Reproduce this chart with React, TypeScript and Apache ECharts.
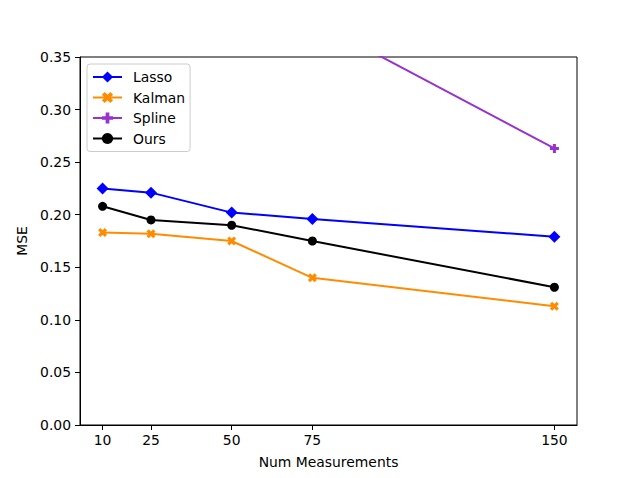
import React, { useEffect, useRef } from "react";
import * as echarts from "echarts";

const xValues = [10, 25, 50, 75, 150];
const lasso = [0.225, 0.221, 0.202, 0.196, 0.179];
const kalman = [0.183, 0.182, 0.175, 0.14, 0.113];
const spline = [null, null, null, 0.385, 0.263];
const ours = [0.208, 0.195, 0.19, 0.175, 0.131];
const yTicks = [0, 0.05, 0.1, 0.15, 0.2, 0.25, 0.3, 0.35];

const FONT = "DejaVu Sans";
const FS = 13.9;

const plusPath =
  "path://M-1,-3L1,-3L1,-1L3,-1L3,1L1,1L1,3L-1,3L-1,1L-3,1L-3,-1L-1,-1Z";
const xPath =
  "path://M0,-1.5L1.5,-3L3,-1.5L1.5,0L3,1.5L1.5,3L0,1.5L-1.5,3L-3,1.5L-1.5,0L-3,-1.5L-1.5,-3Z";

function pairs(ys: (number | null)[]) {
  return xValues.map((x, i) => [x, ys[i]]);
}

export default function App() {
  const ref = useRef<HTMLDivElement>(null);
  useEffect(() => {
    const chart = echarts.init(ref.current!, null, { renderer: "svg" });
    const mk = (
      name: string,
      ys: (number | null)[],
      color: string,
      symbol: string,
      size: number
    ) => ({
      name,
      type: "line",
      data: pairs(ys),
      symbol,
      symbolSize: size,
      showAllSymbol: true,
      clip: true,
      lineStyle: { color, width: 2 },
      itemStyle: { color, borderWidth: 0 },
      emphasis: { disabled: true },
    });
    chart.setOption({
      animation: false,
      backgroundColor: "#ffffff",
      textStyle: { fontFamily: FONT, fontSize: FS, color: "#000" },
      grid: {
        left: 80,
        top: 57,
        right: 63,
        bottom: 53,
        show: true,
        borderColor: "#000",
        borderWidth: 1,
        backgroundColor: "transparent",
      },
      legend: {
        orient: "vertical",
        left: 87,
        top: 64,
        padding: [6, 5, 6, 5],
        itemGap: 6.5,
        itemWidth: 29,
        itemHeight: 14,
        backgroundColor: "rgba(255,255,255,0.8)",
        borderColor: "#cccccc",
        borderWidth: 1,
        borderRadius: 3,
        textStyle: {
          fontFamily: FONT,
          fontSize: FS,
          color: "#000",
          padding: [0, 0, 0, 6],
        },
        data: ["Lasso", "Kalman", "Spline", "Ours"],
      },
      xAxis: {
        type: "value",
        min: 3,
        max: 157,
        name: "Num Measurements",
        nameLocation: "middle",
        nameGap: 30,
        nameTextStyle: { fontFamily: FONT, fontSize: FS, color: "#000" },
        axisLine: { show: true, lineStyle: { color: "#000", width: 1 } },
        axisTick: {
          show: true,
          length: 5,
          lineStyle: { color: "#000", width: 1 },
          customValues: xValues,
        },
        axisLabel: {
          margin: 8,
          fontFamily: FONT,
          fontSize: FS,
          color: "#000",
          customValues: xValues,
        },
        splitLine: { show: false },
      },
      yAxis: {
        type: "value",
        min: 0,
        max: 0.35,
        interval: 0.05,
        name: "MSE",
        nameLocation: "middle",
        nameGap: 44,
        nameRotate: 90,
        nameTextStyle: { fontFamily: FONT, fontSize: FS, color: "#000" },
        axisLine: { show: true, lineStyle: { color: "#000", width: 1 } },
        axisTick: {
          show: true,
          length: 5,
          lineStyle: { color: "#000", width: 1 },
          customValues: yTicks,
        },
        axisLabel: {
          margin: 9,
          fontFamily: FONT,
          fontSize: FS,
          color: "#000",
          customValues: yTicks,
          formatter: (v: number) => v.toFixed(2),
        },
        splitLine: { show: false },
      },
      series: [
        mk("Lasso", lasso, "#0000ff", "diamond", 12),
        mk("Kalman", kalman, "#ff8c00", xPath, 9),
        mk("Spline", spline, "#9932cc", plusPath, 9),
        mk("Ours", ours, "#000000", "circle", 9),
      ],
    });
    return () => chart.dispose();
  }, []);
  return (
    <div
      ref={ref}
      style={{ position: "absolute", left: 0, top: 0, width: 640, height: 478 }}
    />
  );
}
